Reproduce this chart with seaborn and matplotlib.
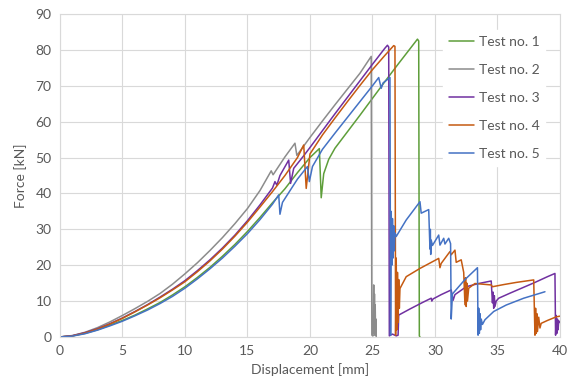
import pandas as pd
import matplotlib
matplotlib.use("Agg")
import matplotlib.pyplot as plt
import seaborn as sns

# Force-displacement curves (mm, kN)
x1 = [0, 1, 2, 3, 4, 5, 6, 7, 8, 9, 10, 11, 12, 13, 14, 15, 16, 17, 18, 19, 20, 20.75, 20.9,
      21.1, 21.5, 22, 23, 24, 25, 26, 27, 28, 28.6, 28.7, 28.75, 28.8]
y1 = [0, 0.3, 1.0, 2.0, 3.3, 4.6, 6.1, 7.8, 9.6, 11.7, 14.0, 16.6, 19.4, 22.5, 25.8, 29.4, 33.3,
      37.4, 41.3, 45.8, 50.0, 52.5, 38.8, 45.5, 49.5, 52.6, 57.2, 61.8, 66.5, 71.2, 75.8, 80.3,
      83.0, 82.5, 0.3, 0.0]

x2 = [0, 1, 2, 3, 4, 5, 6, 7, 8, 9, 10, 11, 12, 13, 14, 15, 16, 16.9, 17.05, 18, 18.8, 18.95,
      20, 21, 22, 23, 24, 24.9, 24.95, 25.05, 25.1, 25.13, 25.16, 25.19, 25.22, 25.25, 25.28, 25.3]
y2 = [0, 0.4, 1.3, 2.6, 4.2, 6.0, 7.9, 9.9, 12.1, 14.7, 17.6, 20.7, 24.1, 27.7, 31.6, 35.8, 40.8,
      46.3, 45.2, 50.2, 54.0, 50.6, 55.6, 60.2, 64.7, 69.1, 73.5, 78.2, 0.5, 0.3, 14.5, 1.0, 12.0,
      0.5, 9.0, 0.5, 5.0, 0.0]

x3 = [0, 1, 2, 3, 4, 5, 6, 7, 8, 9, 10, 11, 12, 13, 14, 15, 16, 17, 17.2, 17.35, 17.6, 18.3,
      18.45, 18.7, 19.5, 20, 21, 22, 23, 24, 25, 26, 26.2, 26.3, 26.35, 26.6, 26.9, 27.05, 27.1,
      28, 29, 29.7, 29.75, 29.85, 30.5, 31.3, 31.45, 31.6, 32.5, 33.5, 34.5, 34.6, 34.65, 34.7,
      34.75, 34.8, 34.9, 35.1, 36, 37, 38, 39, 39.6, 39.65, 39.7, 39.75, 39.8, 39.85, 39.9, 40.0]
y3 = [0, 0.35, 1.2, 2.3, 3.7, 5.3, 7.1, 9.0, 11.1, 13.3, 15.7, 18.5, 21.5, 24.8, 28.4, 32.4,
      36.8, 41.5, 43.3, 42.3, 45.0, 49.3, 42.8, 47.0, 50.5, 52.8, 57.5, 62.2, 66.8, 71.4, 76.0,
      80.5, 81.3, 80.8, 0.3, 0.8, 0.3, 0.5, 6.1, 7.8, 9.6, 10.8, 10.0, 10.6, 11.8, 13.1, 10.2,
      11.8, 14.0, 14.9, 15.6, 9.5, 12.5, 8.0, 11.5, 8.5, 10.0, 10.8, 12.2, 13.7, 15.2, 16.8, 17.7,
      0.5, 6.0, 1.0, 5.0, 2.0, 4.5, 4.0]

x4 = [0, 1, 2, 3, 4, 5, 6, 7, 8, 9, 10, 11, 12, 13, 14, 15, 16, 17, 18, 19, 19.5, 19.7, 20, 21,
      22, 23, 24, 25, 26, 26.7, 26.8, 26.85, 26.9, 26.95, 27.0, 27.05, 27.1, 27.15, 27.2, 27.7,
      28.8, 30.3, 30.4, 30.5, 31.2, 31.3, 31.6, 31.7, 32.1, 32.3, 32.4, 32.45, 32.5, 32.55, 32.6,
      32.7, 33.2, 34.5, 34.6, 35.5, 36.5, 37.9, 38.0, 38.05, 38.1, 38.15, 38.2, 38.3, 38.4, 38.5,
      39.0, 39.7, 40.0]
y4 = [0, 0.3, 1.1, 2.2, 3.6, 5.2, 7.0, 8.9, 10.9, 13.1, 15.4, 18.2, 21.2, 24.5, 28.1, 32.0, 36.2,
      40.5, 45.0, 50.0, 53.5, 41.4, 51.0, 56.3, 61.0, 65.6, 70.1, 74.5, 78.5, 81.2, 81.0, 0.5,
      22.0, 2.0, 18.0, 4.0, 16.0, 8.0, 13.5, 16.8, 19.1, 21.9, 19.3, 20.5, 23.8, 22.9, 24.2, 20.8,
      21.5, 18.0, 9.0, 16.5, 8.5, 15.0, 10.0, 13.6, 14.9, 14.5, 14.0, 14.6, 15.2, 15.9, 0.5, 8.0,
      1.0, 6.5, 1.5, 5.5, 2.5, 3.8, 4.6, 5.6, 5.8]

x5 = [0, 1, 2, 3, 4, 5, 6, 7, 8, 9, 10, 11, 12, 13, 14, 15, 16, 17, 17.5, 17.6, 17.8, 18.5, 19.0,
      19.8, 19.95, 20.2, 21, 22, 23, 24, 25, 25.5, 25.7, 25.85, 26.4, 26.45, 26.5, 26.55, 26.6,
      26.65, 26.7, 26.75, 26.8, 26.9, 27.7, 28.8, 28.9, 29.2, 29.5, 29.6, 29.63, 29.66, 29.7,
      29.8, 30.3, 30.4, 30.7, 30.8, 31.1, 31.25, 31.3, 31.4, 32.4, 33.4, 33.45, 33.5, 33.55,
      33.6, 33.65, 33.7, 33.8, 34.0, 34.7, 35.7, 37.1, 38.8]
y5 = [0, 0.25, 0.9, 1.9, 3.1, 4.4, 5.9, 7.5, 9.3, 11.3, 13.6, 16.2, 19.0, 22.0, 25.3, 28.8, 32.7,
      37.0, 39.6, 34.2, 37.5, 41.3, 44.0, 47.5, 43.3, 47.5, 52.3, 56.8, 61.2, 65.6, 70.0, 72.3,
      69.3, 70.8, 72.3, 0.5, 35.0, 20.0, 33.0, 22.0, 31.0, 24.0, 29.0, 28.0, 32.6, 37.7, 34.5,
      35.0, 35.5, 24.5, 30.0, 23.0, 27.0, 25.5, 28.4, 25.6, 27.5, 25.9, 27.5, 26.0, 5.0, 12.0,
      16.0, 19.3, 0.5, 8.0, 1.0, 6.5, 2.0, 5.0, 3.5, 4.8, 7.1, 8.9, 10.8, 12.6]

tests = ["Test no. 1", "Test no. 2", "Test no. 3", "Test no. 4", "Test no. 5"]
colors = ["#5E9E3A", "#8C8C8C", "#7030A0", "#C55A11", "#4472C4"]

frames = []
for name, xs, ys in zip(tests, [x1, x2, x3, x4, x5], [y1, y2, y3, y4, y5]):
    frames.append(pd.DataFrame({"Displacement": xs, "Force": ys, "Test": name}))
df = pd.concat(frames, ignore_index=True)

sns.set_theme(style="white")
plt.rcParams["font.family"] = ["Lato", "DejaVu Sans"]

fig = plt.figure(figsize=(5.69, 3.90), dpi=100)
ax = fig.add_axes([0.1054, 0.136, 0.8787, 0.828])

sns.lineplot(data=df, x="Displacement", y="Force", hue="Test", palette=dict(zip(tests, colors)),
             sort=False, estimator=None, linewidth=1.1, ax=ax)

ax.set_xlim(0, 40)
ax.set_ylim(0, 90)
ax.set_xticks(range(0, 41, 5))
ax.set_yticks(range(0, 91, 10))
ax.grid(True, color="#D9D9D9", linewidth=0.8)
ax.set_axisbelow(True)
for s in ax.spines.values():
    s.set_color("#D9D9D9")
    s.set_linewidth(0.8)
ax.tick_params(length=0, labelsize=10, labelcolor="#595959", pad=6)
ax.set_xlabel("Displacement [mm]", fontsize=10, color="#595959", labelpad=4)
ax.set_ylabel("Force [kN]", fontsize=10, color="#595959", labelpad=6)

# legend sits inside the plot, white box hiding the grid behind it
handles, labels = ax.get_legend_handles_labels()
leg = ax.legend(handles, labels, loc="upper left", bbox_to_anchor=(0.766, 0.95),
                frameon=True, facecolor="white", edgecolor="white", framealpha=1,
                fancybox=False, fontsize=10, labelspacing=1.16, handlelength=1.8,
                handletextpad=0.4, borderaxespad=0)
for t in leg.get_texts():
    t.set_color("#595959")

fig.savefig("out.png", dpi=100)
